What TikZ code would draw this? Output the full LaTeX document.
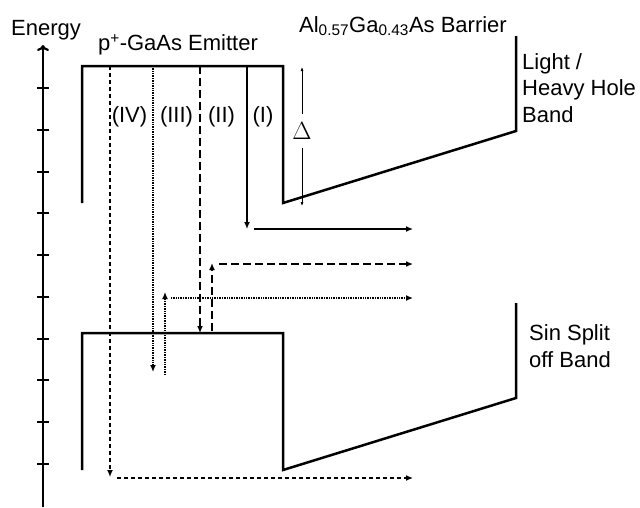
\documentclass[tikz,border=0pt]{standalone}
\usepackage{fontspec}
\setmainfont{Liberation Sans}
\usetikzlibrary{arrows.meta}
\begin{document}
\begin{tikzpicture}[x=1pt,y=-1pt,
  band/.style={line width=2.5pt, line join=miter},
  tr/.style={line width=1.3pt,-{Latex[length=7pt,width=6pt]}},
  shortdash/.style={dash pattern=on 4pt off 3pt},
  longdash/.style={dash pattern=on 8pt off 4pt},
  dotline/.style={dash pattern=on 1pt off 0.7pt},
  lbl/.style={font=\fontsize{22}{26.5}\selectfont, inner sep=0pt},
  tick/.style={line width=1.6pt},
]
\useasboundingbox (0,0) rectangle (640,507);
% axis
\coordinate (axb) at (43,507);
\coordinate (axt) at (43,45);
\draw[line width=2.2pt,-{To[length=6pt,width=12pt]}] (axb) -- (axt);
\foreach \y in {88,130,172,213,255,297,339,380,422,464}
  \draw[tick] (37,\y) -- (49,\y);
\node[lbl] (energy) at (46,30) {Energy};
% upper band
\coordinate (u1) at (82,203);
\coordinate (u2) at (82,66);
\coordinate (u3) at (283,66);
\coordinate (u4) at (283,203);
\coordinate (u5) at (516,131);
\coordinate (u6) at (516,36);
\draw[band] (u1) -- (u2) -- (u3) -- (u4) -- (u5) -- (u6);
% lower band
\coordinate (l1) at (82,470);
\coordinate (l2) at (82,333);
\coordinate (l3) at (283,333);
\coordinate (l4) at (283,470);
\coordinate (l5) at (516,398);
\coordinate (l6) at (516,303);
\draw[band] (l1) -- (l2) -- (l3) -- (l4) -- (l5) -- (l6);
% labels
\node[lbl] (emit) at (178,45) {p\textsuperscript{+}-GaAs Emitter};
\node[lbl] (barr) at (403,26) {Al\textsubscript{0.57}Ga\textsubscript{0.43}As Barrier};
\node[lbl,anchor=west,align=left] (lh) at (522,88) {Light /\\Heavy Hole\\Band};
\node[lbl,anchor=west,align=left] (so) at (529,346) {Sin Split\\off Band};
\node[lbl] (n4) at (129.5,117) {(IV)};
\node[lbl] (n3) at (176.5,117) {(III)};
\node[lbl] (n2) at (221.5,117) {(II)};
\node[lbl] (n1) at (263,117) {(I)};
% Delta
\coordinate (dt) at (302,67);
\coordinate (db) at (302,206);
\node[inner sep=0pt,font=\fontsize{29}{30}\selectfont] (delta) at (302,131) {$\Delta$};
\draw[line width=0.7pt,-{Latex[length=4pt,width=3pt]}] (delta.north) ++(0,-8) -- (dt);
\draw[line width=0.7pt,-{Latex[length=4pt,width=3pt]}] (delta.south) ++(0,8) -- (db);
% transition (I)
\coordinate (a1) at (247,66);
\coordinate (a2) at (247,229);
\coordinate (a3) at (254,229);
\coordinate (a4) at (413,229);
\draw[tr] (a1) -- (a2);
\draw[tr] (a3) -- (a4);
% transition (II)
\coordinate (b1) at (200,66);
\coordinate (b2) at (200,333);
\coordinate (b3) at (212,331);
\coordinate (b4) at (212,263);
\coordinate (b5) at (219,264);
\coordinate (b6) at (413,264);
\draw[tr,longdash] (b1) -- (b2);
\draw[tr,longdash] (b3) -- (b4);
\draw[tr,longdash] (b5) -- (b6);
% transition (III)
\coordinate (c1) at (153,66);
\coordinate (c2) at (153,372);
\coordinate (c3) at (165,375);
\coordinate (c4) at (165,292);
\coordinate (c5) at (171,298);
\coordinate (c6) at (413,298);
\draw[tr,dotline] (c1) -- (c2);
\draw[tr,dotline] (c3) -- (c4);
\draw[tr,dotline] (c5) -- (c6);
% transition (IV)
\coordinate (d1) at (110,66);
\coordinate (d2) at (110,477);
\coordinate (d3) at (117,478);
\coordinate (d4) at (413,478);
\draw[tr,shortdash] (d1) -- (d2);
\draw[tr,shortdash] (d3) -- (d4);
\end{tikzpicture}
\end{document}
